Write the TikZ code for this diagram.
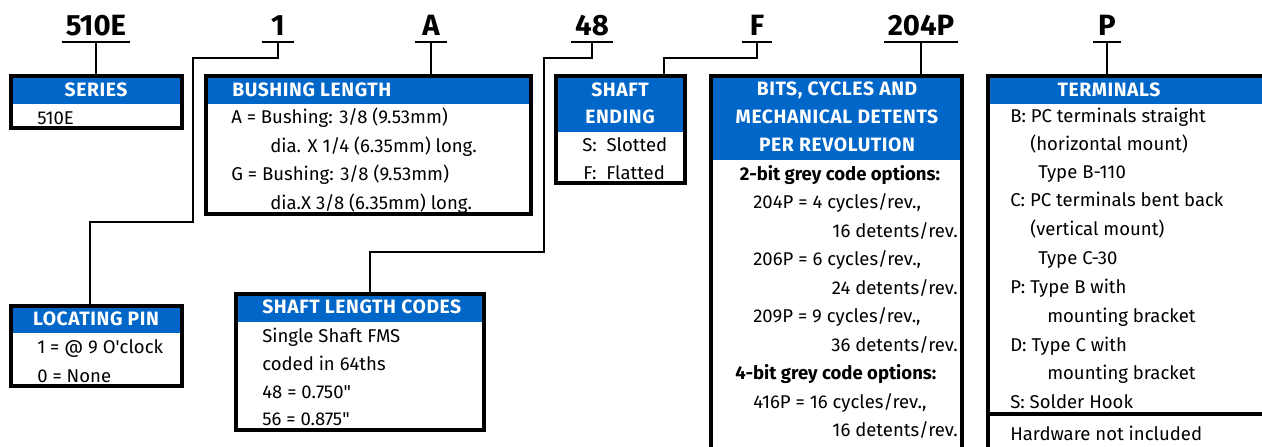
\documentclass[tikz,border=0pt]{standalone}
\usepackage{fontspec}
\setmainfont{Fira Sans}
\usetikzlibrary{fit}
\definecolor{hdrblue}{RGB}{0,102,200}

\begin{document}
\begin{tikzpicture}[x=0.75pt,y=-0.75pt,
    box/.style={draw,line width=3pt,inner sep=0pt},
    hdr/.style={fill=hdrblue,inner sep=0pt},
    hdrtxt/.style={text=white,inner sep=0pt,
                   font=\fontsize{14.5}{17}\selectfont\bfseries\addfontfeatures{LetterSpace=3}},
    txt/.style={inner sep=0pt,anchor=west,text height=9.6pt,text depth=0pt,
                font=\fontsize{13.9}{16}\selectfont},
    code/.style={inner xsep=0pt,inner ysep=4.5pt,anchor=south,
                 font=\fontsize{22}{24}\selectfont\bfseries,
                 append after command={(\tikzlastnode.south west)
                   edge[line width=2.2pt] (\tikzlastnode.south east)}},
    wire/.style={line width=2pt},
  ]
    \useasboundingbox (0,0) rectangle (1262,446);
    \clip (0,0) rectangle (1262,446);

    % part number
    \node[code,minimum width=51pt] (c510) at (96,42)   {510E};
    \node[code,minimum width=24pt] (c1)   at (278,42)  {1};
    \node[code,minimum width=23pt] (cA)   at (431,42)  {A};
    \node[code,minimum width=31pt] (c48)  at (592,42)  {48};
    \node[code,minimum width=22pt] (cF)   at (757,42)  {F};
    \node[code,minimum width=55pt] (c204) at (921,42)  {204P};
    \node[code,minimum width=21pt] (cP)   at (1107,42) {P};

    % headers and boxes
    \node[hdr,fit={(11,76) (182,104)}]  (serhd)  {};
    \node[box,fit={(11,76) (182,128)}]  (series) {};
    \node[hdr,fit={(11,306) (182,333)}] (pinhd)  {};
    \node[box,fit={(11,306) (182,386)}] (locpin) {};
    \node[hdr,fit={(206,76) (531,104)}] (bushhd) {};
    \node[box,fit={(206,76) (531,214)}] (bush)   {};
    \node[hdr,fit={(556,76) (685,132)}] (endhd)  {};
    \node[box,fit={(556,76) (685,183)}] (shend)  {};
    \node[hdr,fit={(236,294) (484,322)}] (slenhd) {};
    \node[box,fit={(236,294) (484,430)}] (slen)  {};
    \node[hdr,fit={(711,76) (962,160)}] (bitshd) {};
    \node[box,fit={(711,76) (962,470)}] (bits)   {};
    \node[hdr,fit={(988,76) (1290,104)}] (termhd) {};
    \node[box,fit={(988,76) (1290,470)}] (term)  {};
    \coordinate (hwl) at (988,414);
    \draw[line width=3pt] (hwl) -- (hwl -| term.east);

    % connectors
    \coordinate (j1a) at (193,58);
    \coordinate (j1b) at (90,222);
    \coordinate (j48a) at (544,58);
    \coordinate (j48b) at (370,252);
    \coordinate (jFa) at (664,58);
    \draw[wire] (c510.south) -- (c510.south |- series.north);
    \draw[wire] (c1.south) |- (j1a) |- (j1b) -- (j1b |- locpin.north);
    \draw[wire] (cA.south) -- (cA.south |- bush.north);
    \draw[wire] (c48.south) |- (j48a) |- (j48b) -- (j48b |- slen.north);
    \draw[wire] (cF.south) |- (jFa) -- (jFa |- shend.north);
    \draw[wire] (c204.south) -- (c204.south |- bits.north);
    \draw[wire] (cP.south) -- (cP.south |- term.north);

    % header texts
    \node[hdrtxt] (serht)  at (96,90)  {SERIES};
    \node[hdrtxt] (pinht)  at (96,319) {LOCATING PIN};
    \node[hdrtxt,anchor=west] (bushht) at (232,90) {BUSHING LENGTH};
    \node[hdrtxt] (endht1) at (620,90)  {SHAFT};
    \node[hdrtxt] (endht2) at (620,117) {ENDING};
    \node[hdrtxt,anchor=west] (slenht) at (262,307) {SHAFT LENGTH CODES};
    \node[hdrtxt] (bitsht1) at (837,90)  {BITS, CYCLES AND};
    \node[hdrtxt] (bitsht2) at (837,117) {MECHANICAL DETENTS};
    \node[hdrtxt] (bitsht3) at (837,145) {PER REVOLUTION};
    \node[hdrtxt] (termht) at (1109,90) {TERMINALS};

    % body texts
    \node[txt] (ser-1) at (37,118) {510E};
    \foreach \yy/\lbl [count=\i] in {347/{1 = @ 9 O\textquotesingle clock},376/{0 = None}}
      \node[txt] (pin-\i) at (37,\yy) {\lbl};
    \foreach \xx/\yy/\lbl [count=\i] in {
        231/117/{A = Bushing: 3/8 (9.53mm)},
        270/146/{dia. X 1/4 (6.35mm) long.},
        231/174/{G = Bushing: 3/8 (9.53mm)},
        270/203/{dia.X 3/8 (6.35mm) long.}}
      \node[txt] (bush-\i) at (\xx,\yy) {\lbl};
    \node[txt] (end-1) at (582,145) {S:\ \ Slotted};
    \node[txt] (end-2) at (583,173) {F:\ \ Flatted};
    \foreach \yy/\lbl [count=\i] in {336/{Single Shaft FMS},364/{coded in 64ths},
        392/{48 = 0.750\textquotedbl},419/{56 = 0.875\textquotedbl}}
      \node[txt] (slen-\i) at (262,\yy) {\lbl};
    \node[txt,anchor=center,font=\fontsize{13.9}{16}\selectfont\bfseries]
      (bits-1) at (840,174) {2-bit grey code options:};
    \node[txt,font=\fontsize{13.9}{16}\selectfont\bfseries]
      (bits-8) at (735,373) {4-bit grey code options:};
    \foreach \yy/\lbl [count=\i] in {202/{204P = 4 cycles/rev.,},
        259/{206P = 6 cycles/rev.,},316/{209P = 9 cycles/rev.,},
        402/{416P = 16 cycles/rev.,}}
      \node[txt] (bitsc-\i) at (753,\yy) {\lbl};
    \foreach \yy/\lbl [count=\i] in {231/{16 detents/rev.},288/{24 detents/rev.},
        345/{36 detents/rev.},430/{16 detents/rev.}}
      \node[txt,anchor=east] (bitsd-\i) at (958,\yy) {\lbl};
    \foreach \xx/\yy/\lbl [count=\i] in {
        1010/116/{B: PC terminals straight},
        1030/144/{(horizontal mount)},
        1038/172/{Type B-110},
        1010/200/{C: PC terminals bent back},
        1030/229/{(vertical mount)},
        1038/258/{Type C-30},
        1010/287/{P: Type B with},
        1047/316/{mounting bracket},
        1010/345/{D: Type C with},
        1047/373/{mounting bracket},
        1010/402/{S: Solder Hook},
        1010/434/{Hardware not included}}
      \node[txt] (term-\i) at (\xx,\yy) {\lbl};
  \end{tikzpicture}
\end{document}
